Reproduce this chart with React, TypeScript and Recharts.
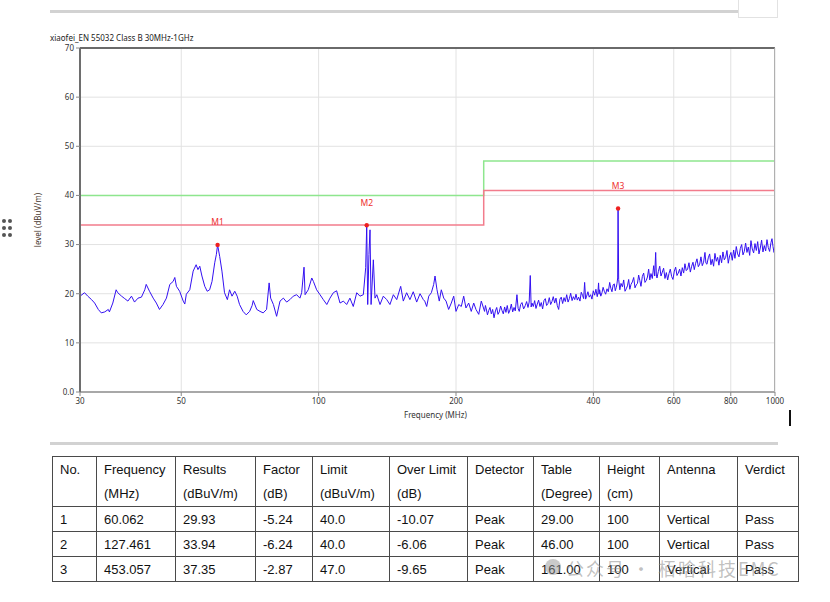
import React from "react";
import {
  ComposedChart,
  Line,
  Scatter,
  XAxis,
  YAxis,
  CartesianGrid,
  LabelList,
  Label,
} from "recharts";

// trace, in four stretches (MHz / dBuV/m)
const FREQ_A = [
  30.0, 30.7, 31.2, 31.8, 32.3, 32.9, 33.4, 34.0, 34.6, 34.8,
  35.4, 36.0, 36.3, 37.0, 37.6, 38.2, 38.9, 39.5, 40.2, 40.9,
  41.6, 41.9, 42.6, 43.4, 44.1, 44.8, 45.6, 46.4, 47.2, 48.0,
  48.4, 48.8, 49.6, 50.5, 50.9, 51.3, 52.2, 53.1, 53.9, 54.4,
  54.9, 55.5, 56.3, 57.0, 57.7, 58.4, 59.2, 59.7, 60.062, 60.7,
  61.4, 62.2, 63.1, 63.8, 64.6, 65.5, 66.3, 67.1, 68.3, 69.4,
  70.6, 71.5, 71.9, 73.2, 74.4, 75.6, 76.9, 77.9, 78.5, 79.6,
  80.9, 82.3, 83.7, 85.1, 86.5, 88.0, 89.5, 91.0, 91.8, 92.9,
  93.4, 94.9, 96.6, 97.4, 99.0, 100.7, 102.4, 104.2, 105.9, 107.7,
  109.5, 111.4, 113.3, 115.2, 117.1, 119.1, 121.2, 123.2, 125.3, 126.8,
  127.461, 128.1, 128.9, 129.6, 130.3, 131.8, 132.9, 134.1, 136.3, 138.6,
  141.0, 143.3, 145.8, 148.3, 151.3, 153.3, 155.9, 158.5, 161.2, 164.0,
  166.8, 169.6,
];
const LEVEL_A = [
  19.5, 20.2, 19.5, 18.8, 18.1, 16.8, 16.1, 16.3, 16.8, 16.3,
  18.1, 20.8, 20.2, 19.5, 19.0, 18.5, 19.5, 18.3, 19.1, 19.3,
  20.8, 21.9, 20.5, 19.1, 18.1, 16.8, 17.8, 19.1, 21.9, 22.5,
  23.3, 21.5, 20.5, 18.5, 17.9, 19.9, 20.8, 24.6, 25.9, 24.9,
  25.6, 23.6, 21.5, 20.5, 20.8, 22.5, 26.3, 28.0, 29.93, 27.6,
  24.6, 20.2, 18.8, 20.8, 19.5, 20.5, 19.5, 17.8, 16.4, 15.7,
  16.4, 17.6, 18.6, 16.8, 16.4, 16.1, 16.8, 22.2, 19.1, 17.8,
  15.4, 18.5, 19.1, 18.3, 18.8, 19.5, 19.8, 19.1, 20.2, 25.4,
  19.8, 20.8, 23.2, 22.5, 20.8, 19.8, 18.8, 17.8, 19.1, 20.2,
  20.6, 18.1, 18.5, 17.8, 19.1, 17.4, 20.2, 19.5, 19.8, 25.3,
  33.94, 17.8, 28.0, 33.0, 17.8, 26.9, 19.1, 19.8, 17.8, 19.5,
  18.8, 17.8, 19.8, 18.8, 21.5, 18.5, 20.2, 18.8, 20.4, 18.3,
  20.0, 18.8,
];

const FREQ_B = [
  170.8, 172.5, 174.3, 176.6, 178.7, 179.9, 181.7, 183.8, 185.7, 188.0,
  190.2, 192.7, 195.3, 197.7, 200.0, 202.8, 205.4, 207.9, 210.3, 213.2,
  216.0, 218.7, 221.2, 224.3, 227.2,
];
const LEVEL_B = [
  18.5, 17.4, 19.5, 20.2, 21.9, 23.6, 20.8, 18.5, 20.8, 19.1,
  18.5, 16.8, 18.1, 19.5, 16.4, 17.8, 17.4, 19.5, 17.1, 18.1,
  16.4, 18.1, 16.8, 15.8, 18.5,
];

const FREQ_C = [
  231.0, 232.0, 233.0, 234.4, 235.9, 237.4, 239.0, 240.6, 242.3, 244.0,
  245.6, 247.2, 248.8, 250.5, 252.2, 253.9, 255.6, 257.3, 259.0, 260.8,
  262.6, 264.4, 266.2, 268.0, 269.7, 272.0, 273.6, 275.2, 277.1, 279.0,
  281.3, 283.7, 285.6, 287.6, 289.3, 290.9, 292.2, 293.4, 295.4, 297.4,
  299.4, 301.4, 303.4, 305.5, 307.5, 309.6, 311.7, 313.8, 315.9, 318.0,
  320.2, 322.4, 324.5, 326.7, 329.0, 331.2, 333.4, 335.7, 337.9, 340.1,
  342.5, 344.9, 347.2, 349.6, 352.0, 354.3, 356.7, 359.2, 361.6, 364.1,
  366.4, 368.8, 371.3, 373.8, 376.3, 378.9, 380.8, 382.7, 384.6, 386.6,
  389.1, 391.7, 394.4, 397.1, 399.8, 402.5, 405.1, 407.8, 409.2, 410.6,
  411.7, 412.8, 415.2, 417.7, 420.1, 422.6, 425.5, 428.4, 431.3, 434.3,
  436.8, 439.3, 441.9, 444.5, 446.7, 449.0, 450.5, 452.1, 453.057,
];
const LEVEL_C = [
  16.4, 17.6, 16.9, 15.7, 16.6, 17.2, 15.9, 16.8, 15.1, 16.5,
  17.2, 15.8, 16.3, 17.5, 16.6, 15.9, 17.3, 16.2, 17.6, 16.0,
  16.7, 17.9, 16.3, 17.2, 16.5, 19.8, 17.0, 16.4, 17.8, 18.2,
  16.9, 17.6, 18.4, 17.2, 18.3, 23.7, 17.3, 18.1, 17.4, 18.6,
  17.0, 17.9, 18.7, 17.4, 18.2, 16.9, 18.6, 19.0, 17.6, 18.0,
  19.2, 17.8, 18.4, 19.4, 18.1, 19.1, 17.6, 16.8, 18.9, 19.3,
  18.0, 19.2, 18.4, 19.8, 18.3, 19.0, 20.1, 18.6, 19.4, 18.8,
  19.9, 18.7, 19.3, 18.5, 20.3, 19.6, 19.0, 22.3, 18.9, 19.5,
  20.4, 19.3, 19.8, 18.9, 20.6, 19.7, 20.9, 19.4, 20.2, 22.2,
  19.9, 20.8, 19.5, 20.2, 21.3, 20.5, 19.9, 21.0, 20.4, 22.3,
  21.1, 20.4, 21.8, 22.0, 20.6, 21.3, 22.0, 23.2, 37.35,
];

const FREQ_D = [
  454.4, 457.1, 459.8, 463.0, 466.1, 469.2, 472.2, 475.0, 477.9, 480.7,
  483.6, 486.9, 490.2, 493.4, 496.6, 499.6, 502.6, 505.5, 508.5, 512.0,
  515.5, 518.9, 522.3, 525.4, 528.6, 531.7, 534.8, 538.5, 542.2, 545.0,
  547.7, 549.5, 551.3, 555.1, 559.0, 562.6, 566.3, 570.1, 574.0, 578.0,
  581.9, 585.7, 589.6, 593.6, 597.6, 601.7, 605.8, 609.8, 613.8, 618.0,
  622.2, 626.4, 630.7, 634.8, 639.0, 643.4, 647.9, 652.3, 656.8, 661.1,
  665.5, 670.0, 674.6, 679.2, 683.8, 688.3, 692.8, 697.5, 702.3, 705.8,
  709.4, 714.2, 719.1, 723.8, 728.6, 733.6, 738.6, 743.6, 748.7, 753.6,
  758.6, 763.8, 769.0, 774.3, 779.6, 784.8, 790.0, 795.3, 800.7, 806.1,
  811.6, 817.0, 822.5, 828.2, 833.9, 839.5, 845.2, 850.8, 856.4, 862.2,
  868.1, 874.0, 880.0, 885.8, 891.7, 897.8, 904.0, 910.1, 916.3, 922.3,
  928.4, 934.7, 941.1, 947.5, 954.0, 960.3, 966.6, 973.2, 979.9, 984.9,
  989.9, 995.0, 1000,
];
const LEVEL_D = [
  22.9, 20.8, 22.1, 21.4, 22.8, 20.5, 21.0, 21.6, 22.9, 20.9,
  21.9, 22.4, 23.3, 21.2, 21.8, 22.1, 23.8, 22.7, 21.5, 23.5,
  24.2, 22.3, 22.7, 23.4, 25.0, 22.8, 24.1, 23.1, 25.7, 23.6,
  28.4, 24.0, 23.2, 24.5, 25.6, 23.6, 24.4, 25.2, 23.1, 24.3,
  22.8, 24.1, 25.0, 23.5, 22.9, 24.6, 25.4, 23.7, 24.2, 25.0,
  23.6, 25.3, 24.2, 26.1, 24.7, 25.0, 26.3, 24.4, 25.6, 26.4,
  24.9, 26.2, 27.1, 25.5, 26.0, 27.5, 25.7, 26.4, 28.4, 26.2,
  26.0, 27.3, 28.1, 25.9, 27.0, 25.6, 28.2, 26.6, 27.4, 25.8,
  27.8, 26.3, 28.5, 26.9, 27.4, 28.8, 26.2, 27.7, 28.4, 26.8,
  28.9, 27.2, 29.6, 28.1, 27.5, 29.2, 30.0, 27.9, 28.6, 30.3,
  28.4, 29.5, 27.8, 30.8, 29.1, 28.3, 30.2, 28.8, 30.6, 28.1,
  29.3, 30.9, 28.5, 29.8, 28.7, 31.0, 29.4, 28.6, 30.4, 31.2,
  29.6, 28.4, 29.2,
];

const LIMIT_FREQ = [30, 230, 230, 1000];
const LIMIT_QP = [40, 40, 47, 47];
const LIMIT_MARGIN = [34, 34, 41, 41];

const MARKER_NAMES = ["M1", "M2", "M3"];
const MARKER_FREQ = [60.062, 127.461, 453.057];
const MARKER_LEVEL = [29.93, 33.94, 37.35];

const X_TICKS = [30, 50, 100, 200, 400, 600, 800, 1000];
const Y_TICKS = [0, 10, 20, 30, 40, 50, 60, 70];

const TABLE_HEAD = [
  ["No.", ""],
  ["Frequency", "(MHz)"],
  ["Results", "(dBuV/m)"],
  ["Factor", "(dB)"],
  ["Limit", "(dBuV/m)"],
  ["Over Limit", "(dB)"],
  ["Detector", ""],
  ["Table", "(Degree)"],
  ["Height", "(cm)"],
  ["Antenna", ""],
  ["Verdict", ""],
];
const ROW_NO = ["1", "2", "3"];
const ROW_FREQ = ["60.062", "127.461", "453.057"];
const ROW_RESULT = ["29.93", "33.94", "37.35"];
const ROW_FACTOR = ["-5.24", "-6.24", "-2.87"];
const ROW_LIMIT = ["40.0", "40.0", "47.0"];
const ROW_OVER = ["-10.07", "-6.06", "-9.65"];
const ROW_DETECTOR = ["Peak", "Peak", "Peak"];
const ROW_TABLE = ["29.00", "46.00", "161.00"];
const ROW_HEIGHT = ["100", "100", "100"];
const ROW_ANTENNA = ["Vertical", "Vertical", "Vertical"];
const ROW_VERDICT = ["Pass", "Pass", "Pass"];

const COL_WIDTHS = [44, 79, 80, 57, 77, 78, 66, 66, 60, 78, 61];

const TRACE_FREQ = [...FREQ_A, ...FREQ_B, ...FREQ_C, ...FREQ_D];
const TRACE_LEVEL = [...LEVEL_A, ...LEVEL_B, ...LEVEL_C, ...LEVEL_D];

const trace = TRACE_FREQ.map((f, i) => ({ freq: f, level: TRACE_LEVEL[i] }));
const qpLimit = LIMIT_FREQ.map((f, i) => ({ freq: f, level: LIMIT_QP[i] }));
const marginLimit = LIMIT_FREQ.map((f, i) => ({ freq: f, level: LIMIT_MARGIN[i] }));
const markers = MARKER_NAMES.map((name, i) => ({
  name,
  freq: MARKER_FREQ[i],
  level: MARKER_LEVEL[i],
}));

const tableRows = ROW_NO.map((no, i) => [
  no,
  ROW_FREQ[i],
  ROW_RESULT[i],
  ROW_FACTOR[i],
  ROW_LIMIT[i],
  ROW_OVER[i],
  ROW_DETECTOR[i],
  ROW_TABLE[i],
  ROW_HEIGHT[i],
  ROW_ANTENNA[i],
  ROW_VERDICT[i],
]);

const chartFont = "'Noto Sans', 'DejaVu Sans', sans-serif";

function MarkerDot(props: any) {
  const { cx, cy } = props;
  return <circle cx={cx} cy={cy} r={2.2} fill="#ee2020" />;
}

export default function App() {
  const cell: React.CSSProperties = {
    border: "1px solid #4a4a4a",
    padding: "0 0 0 7px",
    textAlign: "left",
    fontWeight: "normal",
  };

  return (
    <div
      style={{
        position: "absolute",
        left: 0,
        top: 0,
        width: 830,
        height: 602,
        background: "#fff",
        overflow: "hidden",
        fontFamily: "'Liberation Sans', Arial, sans-serif",
      }}
    >
      {/* top bar + little box */}
      <div style={{ position: "absolute", left: 50, top: 10, width: 728, height: 3, background: "#d2d2d2" }} />
      <div style={{ position: "absolute", left: 738, top: -1, width: 38, height: 17, border: "1px solid #e2e2e2", background: "#fff" }} />

      {/* drag handle */}
      {[0, 1, 2].map((r) =>
        [0, 1].map((c) => (
          <div
            key={`${r}-${c}`}
            style={{
              position: "absolute",
              left: 2 + c * 6,
              top: 219 + r * 7,
              width: 4,
              height: 4,
              borderRadius: 2,
              background: "#555",
            }}
          />
        ))
      )}

      <div style={{ position: "absolute", left: 50, top: 32, fontSize: 8, fontFamily: chartFont, color: "#222" }}>
        xiaofei_EN 55032 Class B 30MHz-1GHz
      </div>

      <div style={{ position: "absolute", left: 0, top: 0 }}>
        <ComposedChart
          width={830}
          height={440}
          margin={{ top: 48, right: 55, bottom: 8, left: 30 }}
          style={{ fontFamily: chartFont }}
        >
          <CartesianGrid stroke="#e2e2e2" strokeWidth={1} />
          <XAxis
            dataKey="freq"
            type="number"
            scale="log"
            domain={[30, 1000]}
            allowDataOverflow
            ticks={X_TICKS}
            interval={0}
            height={40}
            tick={{ fontSize: 8, fill: "#333" }}
            tickSize={4}
            tickLine={{ stroke: "#888" }}
            axisLine={{ stroke: "#a8a8a8", strokeWidth: 2 }}
          >
            <Label value="Frequency (MHz)" position="insideBottom" offset={14} dx={8} style={{ fontSize: 8, fill: "#333" }} />
          </XAxis>
          <YAxis
            type="number"
            domain={[0, 70]}
            ticks={Y_TICKS}
            interval={0}
            width={50}
            tick={{ fontSize: 8, fill: "#333" }}
            tickFormatter={(v: number) => (v === 0 ? "0.0" : String(v))}
            tickSize={4}
            tickLine={{ stroke: "#888" }}
            axisLine={{ stroke: "#6e6e6e", strokeWidth: 2 }}
          >
            <Label
              value="level (dBuV/m)"
              angle={-90}
              position="insideLeft"
              offset={8}
              style={{ fontSize: 8, fill: "#4a3a30", textAnchor: "middle" }}
            />
          </YAxis>
          <Line
            data={qpLimit}
            dataKey="level"
            stroke="#8ee68e"
            strokeWidth={1.5}
            dot={false}
            isAnimationActive={false}
            type="linear"
          />
          <Line
            data={marginLimit}
            dataKey="level"
            stroke="#f27c8c"
            strokeWidth={1.5}
            dot={false}
            isAnimationActive={false}
            type="linear"
          />
          <Line
            data={trace}
            dataKey="level"
            stroke="#3310f2"
            strokeWidth={1}
            dot={false}
            isAnimationActive={false}
            type="linear"
          />
          <Scatter data={markers} dataKey="level" shape={<MarkerDot />} isAnimationActive={false}>
            <LabelList dataKey="name" position="top" offset={15} style={{ fontSize: 8.5, fill: "#ee3030" }} />
          </Scatter>
        </ComposedChart>
      </div>

      {/* plot frame: top and right edges */}
      <div
        style={{
          position: "absolute",
          left: 80,
          top: 47,
          width: 695,
          height: 345,
          borderTop: "2px solid #6a6a6a",
          borderRight: "1px solid #b0b0b0",
          boxSizing: "border-box",
          pointerEvents: "none",
        }}
      />

      {/* text cursor */}
      <div style={{ position: "absolute", left: 789, top: 410, width: 2, height: 16, background: "#111" }} />

      {/* separator */}
      <div style={{ position: "absolute", left: 50, top: 442, width: 728, height: 3, background: "#d2d2d2" }} />

      <table
        style={{
          position: "absolute",
          left: 52,
          top: 456,
          borderCollapse: "collapse",
          fontSize: 13,
          color: "#111",
          tableLayout: "fixed",
          width: 746,
        }}
      >
        <colgroup>
          {COL_WIDTHS.map((w, i) => (
            <col key={i} style={{ width: w }} />
          ))}
        </colgroup>
        <thead>
          <tr style={{ height: 50 }}>
            {TABLE_HEAD.map((h, i) => (
              <th key={i} style={{ ...cell, verticalAlign: "top", lineHeight: "24px", paddingTop: 1 }}>
                {h[0]}
                <br />
                {h[1]}
              </th>
            ))}
          </tr>
        </thead>
        <tbody>
          {tableRows.map((row, r) => (
            <tr key={r} style={{ height: 25 }}>
              {row.map((v, c) => (
                <td key={c} style={{ ...cell, verticalAlign: "middle" }}>
                  {v}
                </td>
              ))}
            </tr>
          ))}
        </tbody>
      </table>

      {/* watermark */}
      <div
        style={{
          position: "absolute",
          left: 545,
          top: 559,
          width: 16,
          height: 16,
          borderRadius: 8,
          background: "rgba(150,150,150,0.5)",
        }}
      />
      <div
        style={{
          position: "absolute",
          left: 566,
          top: 555,
          fontSize: 18,
          letterSpacing: 2,
          color: "rgba(140,140,140,0.55)",
          fontFamily: "'Noto Sans CJK SC', sans-serif",
          whiteSpace: "nowrap",
        }}
      >
        公众号 · 栢晗科技EMC
      </div>
    </div>
  );
}
